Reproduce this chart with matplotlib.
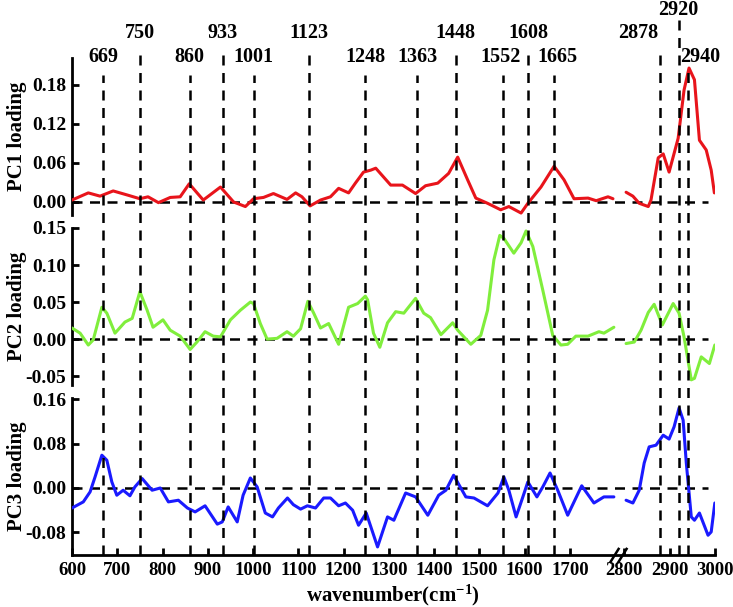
import numpy as np
import matplotlib
matplotlib.use("Agg")
import matplotlib.pyplot as plt

plt.rcParams['font.family'] = ['Liberation Serif', 'DejaVu Serif']
plt.rcParams['font.weight'] = 'bold'
plt.rcParams['axes.unicode_minus'] = False
plt.rcParams['mathtext.fontset'] = 'custom'
plt.rcParams['mathtext.rm'] = 'Liberation Serif:bold'
plt.rcParams['mathtext.bf'] = 'Liberation Serif:bold'
plt.rcParams['mathtext.it'] = 'Liberation Serif:bold'

# ---- data ----
# PC1 loading (red)
pc1_left_x = [600, 636, 662, 691, 721, 750, 768, 791, 817, 839, 859, 890, 928, 957, 983,
              1001, 1023, 1045, 1075, 1094, 1108, 1126, 1149, 1171, 1189, 1211, 1226, 1244,
              1260, 1271, 1304, 1330, 1359, 1381, 1408, 1432, 1452, 1474, 1492, 1518, 1547,
              1565, 1592, 1607, 1636, 1665, 1687, 1709, 1740, 1758, 1784, 1795]
pc1_left_y = [0.003, 0.014, 0.009, 0.017, 0.011, 0.005, 0.008, -0.001, 0.007, 0.008, 0.028,
              0.003, 0.023, 0.000, -0.007, 0.005, 0.007, 0.013, 0.004, 0.014, 0.008, -0.006,
              0.003, 0.008, 0.021, 0.014, 0.029, 0.046, 0.049, 0.052, 0.026, 0.026, 0.013,
              0.025, 0.029, 0.044, 0.069, 0.034, 0.006, -0.002, -0.012, -0.007, -0.017,
              -0.002, 0.023, 0.055, 0.034, 0.005, 0.006, 0.002, 0.008, 0.005]
pc1_right_x = [2804, 2819, 2833, 2853, 2859, 2875, 2886, 2899, 2919, 2932, 2943, 2955,
               2966, 2981, 2992, 2999]
pc1_right_y = [0.015, 0.009, -0.002, -0.007, 0.003, 0.068, 0.074, 0.046, 0.098, 0.172,
               0.206, 0.188, 0.095, 0.080, 0.049, 0.014]

# PC2 loading (green)
pc2_left_x = [600, 618, 636, 647, 666, 677, 695, 717, 733, 750, 766, 779, 801, 817, 839,
              861, 876, 894, 912, 928, 950, 972, 994, 1001, 1016, 1031, 1053, 1075, 1089,
              1105, 1121, 1134, 1149, 1167, 1189, 1211, 1231, 1248, 1253, 1266, 1280, 1297,
              1315, 1333, 1359, 1377, 1392, 1415, 1441, 1452, 1481, 1503, 1518, 1532, 1545,
              1554, 1576, 1592, 1603, 1618, 1640, 1662, 1680, 1695, 1713, 1740, 1764, 1775,
              1797]
pc2_left_y = [0.015, 0.008, -0.008, -0.001, 0.043, 0.035, 0.008, 0.023, 0.028, 0.064,
              0.039, 0.016, 0.026, 0.012, 0.004, -0.014, -0.004, 0.010, 0.004, 0.003, 0.026,
              0.039, 0.050, 0.048, 0.021, 0.000, 0.001, 0.010, 0.004, 0.014, 0.051, 0.035,
              0.015, 0.021, -0.007, 0.043, 0.048, 0.058, 0.053, 0.008, -0.011, 0.022, 0.037,
              0.035, 0.055, 0.035, 0.029, 0.006, 0.022, 0.012, -0.007, 0.005, 0.039, 0.107,
              0.140, 0.136, 0.116, 0.130, 0.146, 0.125, 0.066, 0.005, -0.008, -0.007, 0.004,
              0.004, 0.010, 0.008, 0.016]
pc2_right_x = [2804, 2822, 2837, 2853, 2866, 2884, 2908, 2921, 2932, 2948, 2955, 2970,
               2988, 3000]
pc2_right_y = [-0.006, -0.004, 0.012, 0.036, 0.047, 0.019, 0.048, 0.035, 0.003, -0.055,
               -0.053, -0.024, -0.033, -0.008]

# PC3 loading (blue)
pc3_left_x = [600, 625, 640, 651, 666, 677, 688, 699, 713, 728, 739, 755, 777, 795, 813,
              835, 855, 872, 894, 921, 932, 945, 965, 978, 994, 1009, 1027, 1043, 1056,
              1076, 1089, 1105, 1120, 1138, 1156, 1171, 1189, 1204, 1220, 1233, 1250, 1275,
              1297, 1311, 1337, 1359, 1386, 1410, 1426, 1443, 1470, 1488, 1518, 1541, 1554,
              1565, 1581, 1596, 1607, 1627, 1640, 1656, 1673, 1695, 1709, 1726, 1753, 1775,
              1797]
pc3_left_y = [-0.036, -0.025, -0.007, 0.020, 0.059, 0.050, 0.011, -0.013, -0.004, -0.014,
              0.002, 0.017, -0.004, 0.000, -0.025, -0.022, -0.036, -0.043, -0.032, -0.065,
              -0.061, -0.034, -0.061, -0.013, 0.018, 0.002, -0.045, -0.052, -0.036, -0.018,
              -0.030, -0.038, -0.032, -0.036, -0.018, -0.018, -0.032, -0.027, -0.040,
              -0.067, -0.045, -0.106, -0.052, -0.058, -0.009, -0.016, -0.049, -0.013,
              -0.004, 0.023, -0.016, -0.018, -0.032, -0.009, 0.020, -0.004, -0.052, -0.016,
              0.011, -0.016, 0.002, 0.027, -0.004, -0.049, -0.025, 0.004, -0.027, -0.016,
              -0.016]
pc3_right_x = [2804, 2819, 2833, 2844, 2855, 2870, 2886, 2899, 2910, 2921, 2930, 2937,
               2948, 2955, 2966, 2985, 2992, 3000]
pc3_right_y = [-0.022, -0.027, -0.004, 0.045, 0.074, 0.077, 0.095, 0.088, 0.110, 0.144,
               0.122, 0.045, -0.052, -0.058, -0.045, -0.085, -0.079, -0.027]

peaks = [669, 750, 860, 933, 1001, 1123, 1248, 1363, 1448, 1552, 1608, 1665, 2878, 2920, 2940]

x_ticks = [600, 700, 800, 900, 1000, 1100, 1200, 1300, 1400, 1500, 1600, 1700, 2800, 2900, 3000]
pc1_ticks = [0.00, 0.06, 0.12, 0.18]
pc2_ticks = [-0.05, 0.00, 0.05, 0.10, 0.15]
pc3_ticks = [-0.08, 0.00, 0.08, 0.16]

# ---- broken x axis: 1800..2800 squeezed into a small gap ----
GAP = 20.0


def fwd(x):
    x = np.asarray(x, dtype=float)
    return np.where(x <= 1800, x,
                    np.where(x >= 2800, x - 1000 + GAP, 1800 + (x - 1800) * GAP / 1000))


def inv(t):
    t = np.asarray(t, dtype=float)
    return np.where(t <= 1800, t,
                    np.where(t >= 1800 + GAP, t + 1000 - GAP, 1800 + (t - 1800) * 1000 / GAP))


fig = plt.figure(figsize=(7.33, 6.07), dpi=100)

left, width = 0.0982, 0.877
h = 0.2587
ax1 = fig.add_axes([left, 0.6458, width, h])
ax2 = fig.add_axes([left, 0.3657, width, h])
ax3 = fig.add_axes([left, 0.0857, width, h])

panels = [
    (ax1, pc1_left_x, pc1_left_y, pc1_right_x, pc1_right_y, '#e8141b', (-0.02, 0.2215), pc1_ticks, 'PC1 loading'),
    (ax2, pc2_left_x, pc2_left_y, pc2_right_x, pc2_right_y, '#80ee3c', (-0.062, 0.15), pc2_ticks, 'PC2 loading'),
    (ax3, pc3_left_x, pc3_left_y, pc3_right_x, pc3_right_y, '#1a1aff', (-0.1205, 0.162), pc3_ticks, 'PC3 loading'),
]

for ax, lx, ly, rx, ry, col, ylim, yt, lab in panels:
    ax.set_xscale('function', functions=(fwd, inv))
    ax.set_xlim(600, 3000)
    ax.set_ylim(*ylim)
    ax.plot(lx, ly, color=col, lw=2.2, solid_capstyle='round', solid_joinstyle='round', zorder=3)
    ax.plot(rx, ry, color=col, lw=2.2, solid_capstyle='round', solid_joinstyle='round', zorder=3)
    ax.axhline(0, xmax=0.99, color='black', lw=1.8, dashes=(4, 3), zorder=2)
    ax.set_yticks(yt)
    ax.set_yticklabels(['%.2f' % v for v in yt], fontsize=14, fontweight='bold')
    ax.set_ylabel(lab, fontsize=15, fontweight='bold')
    ax.yaxis.set_label_coords(-0.07, 0.5)
    for s in ['top', 'right', 'bottom']:
        ax.spines[s].set_visible(False)
    ax.spines['left'].set_linewidth(2)
    ax.tick_params(axis='y', direction='in', length=5, width=2, pad=4)
    ax.patch.set_visible(False)

for ax in (ax1, ax2):
    ax.set_xticks([])

ax3.spines['bottom'].set_visible(True)
ax3.spines['bottom'].set_linewidth(2)
ax3.set_xticks(x_ticks)
ax3.set_xticklabels([str(v) for v in x_ticks], fontsize=13.5, fontweight='bold')
ax3.tick_params(axis='x', direction='in', length=5, width=2, pad=5)
ax3.set_xlabel('wavenumber(cm$^{-1}$)', fontsize=15, fontweight='bold', labelpad=3)

# break marks on the x axis
brk = inv(np.array([1797.0, 1816.0]))
ax3.plot(brk, [0, 0], transform=ax3.get_xaxis_transform(), linestyle='none',
         marker=[(-1, -1.6), (1, 1.6)], markersize=11, mew=1.8, color='black', clip_on=False, zorder=5)

# overlay for dashed peak markers and their labels
over = fig.add_axes([left, 0.0857, width, 1 - 0.0857])
over.set_xscale('function', functions=(fwd, inv))
over.set_xlim(600, 3000)
over.set_ylim(0, 1)
over.axis('off')

level = {750: 1, 933: 1, 1123: 1, 1448: 1, 1608: 1, 2878: 1, 2920: 2}
line_top = {0: 0.865, 1: 0.9135, 2: 0.964}
text_y = {0: 0.897, 1: 0.9405, 2: 0.982}
label_x = {1552: 1547, 1665: 1672, 2878: 2876, 2940: 2924}
label_ha = {2878: 'right', 2940: 'left'}

for p in peaks:
    lv = level.get(p, 0)
    top = 0.877 if p == 2940 else line_top[lv]
    over.axvline(p, ymin=0, ymax=top, color='black', lw=1.8, dashes=(4, 3))
    over.text(label_x.get(p, p), text_y[lv], str(p), transform=over.get_xaxis_transform(),
              ha=label_ha.get(p, 'center'), va='center', fontsize=14.5, fontweight='bold')

fig.savefig('out.png', dpi=100)
